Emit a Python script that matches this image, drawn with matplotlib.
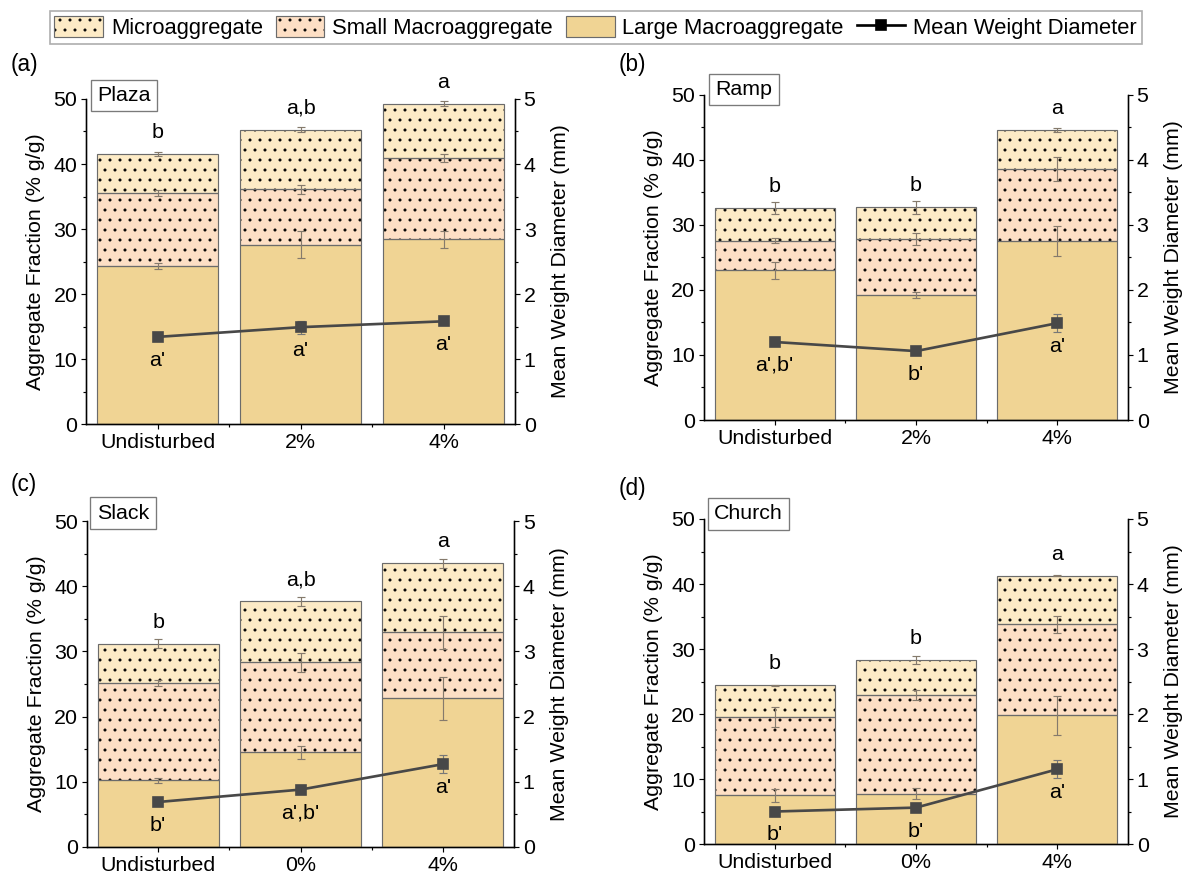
import matplotlib
matplotlib.use("Agg")
import matplotlib.pyplot as plt
from matplotlib.patches import Patch
from matplotlib.lines import Line2D
from matplotlib.ticker import MultipleLocator, FixedLocator

plt.rcParams["font.family"] = ["Liberation Sans", "DejaVu Sans"]
plt.rcParams["hatch.linewidth"] = 0.6

# treatments
groups_ab = ["Undisturbed", "2%", "4%"]
groups_cd = ["Undisturbed", "0%", "4%"]

# aggregate fractions (% g/g) and standard errors, per site
plaza_large = [24.3, 27.6, 28.4]
plaza_large_err = [0.5, 2.1, 1.35]
plaza_small = [11.3, 8.5, 12.5]
plaza_small_err = [0.45, 0.65, 0.65]
plaza_micro = [5.9, 9.2, 8.4]
plaza_micro_err = [0.33, 0.45, 0.35]
plaza_mwd = [1.34, 1.49, 1.58]
plaza_mwd_err = [0.03, 0.1, 0.05]
plaza_letters = ["b", "a,b", "a"]
plaza_mwd_letters = ["a'", "a'", "a'"]

ramp_large = [23.0, 19.2, 27.6]
ramp_large_err = [1.25, 0.5, 2.3]
ramp_small = [4.6, 8.6, 11.0]
ramp_small_err = [0.4, 0.9, 1.85]
ramp_micro = [5.0, 4.9, 6.0]
ramp_micro_err = [0.95, 0.95, 0.33]
ramp_mwd = [1.20, 1.06, 1.49]
ramp_mwd_err = [0.05, 0.03, 0.14]
ramp_letters = ["b", "b", "a"]
ramp_mwd_letters = ["a',b'", "b'", "a'"]

slack_large = [10.2, 14.5, 22.8]
slack_large_err = [0.45, 1.0, 3.25]
slack_small = [14.9, 13.8, 10.1]
slack_small_err = [0.45, 1.5, 2.55]
slack_micro = [6.1, 9.4, 10.6]
slack_micro_err = [0.65, 0.7, 0.7]
slack_mwd = [0.69, 0.88, 1.27]
slack_mwd_err = [0.05, 0.03, 0.14]
slack_letters = ["b", "a,b", "a"]
slack_mwd_letters = ["b'", "a',b'", "a'"]

church_large = [7.5, 7.7, 19.8]
church_large_err = [1.0, 0.85, 3.0]
church_small = [12.1, 15.2, 14.0]
church_small_err = [1.55, 0.75, 1.3]
church_micro = [4.8, 5.4, 7.5]
church_micro_err = [0.1, 0.65, 0.1]
church_mwd = [0.50, 0.56, 1.15]
church_mwd_err = [0.03, 0.03, 0.14]
church_letters = ["b", "b", "a"]
church_mwd_letters = ["b'", "b'", "a'"]

c_large = "#f0d494"
c_small = "#fddfc5"
c_micro = "#fdebc6"
c_edge = "#6b6b6b"
c_err = "#857a6c"
c_line = "#484848"

FS = 12.8

sites = [
    ("(a)", "Plaza", groups_ab, [0.0728, 0.5143, 0.3629, 0.3723], (0.0886, 1.011),
     plaza_large, plaza_large_err, plaza_small, plaza_small_err, plaza_micro, plaza_micro_err,
     plaza_mwd, plaza_mwd_err, plaza_letters, plaza_mwd_letters),
    ("(b)", "Ramp", groups_ab, [0.5956, 0.5189, 0.3587, 0.3723], (0.0943, 1.017),
     ramp_large, ramp_large_err, ramp_small, ramp_small_err, ramp_micro, ramp_micro_err,
     ramp_mwd, ramp_mwd_err, ramp_letters, ramp_mwd_letters),
    ("(c)", "Slack", groups_cd, [0.0736, 0.0298, 0.3613, 0.3734], (0.0843, 1.0245),
     slack_large, slack_large_err, slack_small, slack_small_err, slack_micro, slack_micro_err,
     slack_mwd, slack_mwd_err, slack_letters, slack_mwd_letters),
    ("(d)", "Church", groups_cd, [0.5956, 0.0332, 0.3587, 0.3723], (0.105, 1.0154),
     church_large, church_large_err, church_small, church_small_err, church_micro, church_micro_err,
     church_mwd, church_mwd_err, church_letters, church_mwd_letters),
]
panel_label_pos = {"(a)": (24, 65), "(b)": (632, 65), "(c)": (24, 485), "(d)": (632, 488)}

fig = plt.figure(figsize=(1182 / 120, 873 / 120), dpi=120)


def style_axis(a):
    a.tick_params(direction="out", length=3.2, width=0.7, labelsize=FS, pad=2)
    a.tick_params(which="minor", direction="out", length=2, width=0.7)
    for s in a.spines.values():
        s.set_linewidth(0.8)
    a.spines["top"].set_visible(False)


for (plab, site, groups, rect, box_xy, large, large_err, small, small_err,
     micro, micro_err, mwd, mwd_err, letters, mwd_letters) in sites:
    ax = fig.add_axes(rect)
    x = [1, 2, 3]
    w = 0.85
    small_bottom = large
    micro_bottom = [l + s for l, s in zip(large, small)]
    top = [m + mi for m, mi in zip(micro_bottom, micro)]

    # filled segments (dots drawn in black), then thin outlines on top
    ax.bar(x, large, w, color=c_large, linewidth=0, zorder=2)
    ax.bar(x, small, w, bottom=small_bottom, color=c_small, hatch="..",
           edgecolor="black", linewidth=0, zorder=2)
    ax.bar(x, micro, w, bottom=micro_bottom, color=c_micro, hatch="..",
           edgecolor="black", linewidth=0, zorder=2)
    for h, b in [(large, None), (small, small_bottom), (micro, micro_bottom)]:
        ax.bar(x, h, w, bottom=b, fill=False, edgecolor=c_edge, linewidth=0.7, zorder=3)

    ax.errorbar(x, small_bottom, yerr=large_err, fmt="none", ecolor=c_err,
                elinewidth=0.7, capsize=2.2, capthick=0.7, zorder=4)
    ax.errorbar(x, micro_bottom, yerr=small_err, fmt="none", ecolor=c_err,
                elinewidth=0.7, capsize=2.2, capthick=0.7, zorder=4)
    ax.errorbar(x, top, yerr=micro_err, fmt="none", ecolor=c_err,
                elinewidth=0.7, capsize=2.2, capthick=0.7, zorder=4)

    for xi, t, lab in zip(x, top, letters):
        ax.text(xi, t + 3.3, lab, ha="center", va="center", fontsize=FS)

    ax.set_xlim(0.5, 3.5)
    ax.set_ylim(0, 50)
    ax.set_xticks(x)
    ax.set_xticklabels(groups)
    ax.xaxis.set_minor_locator(FixedLocator([1.5, 2.5]))
    ax.yaxis.set_major_locator(MultipleLocator(10))
    ax.yaxis.set_minor_locator(MultipleLocator(5))
    ax.set_ylabel("Aggregate Fraction (% g/g)", fontsize=FS, labelpad=5)
    style_axis(ax)

    ax2 = ax.twinx()
    ax2.errorbar(x, mwd, yerr=mwd_err, color=c_line, linewidth=1.6, marker="s",
                 markersize=6.5, ecolor="#777777", elinewidth=0.7, capsize=2.2,
                 capthick=0.7, zorder=5)
    for xi, m, lab in zip(x, mwd, mwd_letters):
        ax2.text(xi, m - 0.36, lab, ha="center", va="center", fontsize=FS)
    ax2.set_ylim(0, 5)
    ax2.yaxis.set_major_locator(MultipleLocator(1))
    ax2.yaxis.set_minor_locator(MultipleLocator(0.5))
    ax2.set_ylabel("Mean Weight Diameter (mm)", fontsize=FS, labelpad=9)
    style_axis(ax2)

    ax2.text(box_xy[0], box_xy[1], site, transform=ax.transAxes, ha="center",
             va="center", fontsize=FS, zorder=10,
             bbox=dict(boxstyle="square,pad=0.3", facecolor="white",
                       edgecolor="#7a7a7a", linewidth=0.8))
    px, py = panel_label_pos[plab]
    fig.text(px / 1182, 1 - py / 873, plab, ha="center", va="center", fontsize=13.5)

# shared legend
h_micro = (Patch(facecolor=c_micro, hatch="..", edgecolor="black", linewidth=0),
           Patch(facecolor="none", edgecolor=c_edge, linewidth=0.7))
h_small = (Patch(facecolor=c_small, hatch="..", edgecolor="black", linewidth=0),
           Patch(facecolor="none", edgecolor=c_edge, linewidth=0.7))
h_large = Patch(facecolor=c_large, edgecolor=c_edge, linewidth=0.7)
h_mwd = Line2D([], [], color="black", linewidth=1.6, marker="s", markersize=6.5)
fig.legend([h_micro, h_small, h_large, h_mwd],
           ["Microaggregate", "Small Macroaggregate", "Large Macroaggregate",
            "Mean Weight Diameter"],
           loc="upper center", bbox_to_anchor=(0.504, 0.987), ncol=4,
           fontsize=13.2, frameon=True, fancybox=False, edgecolor="#9a9a9a",
           handlelength=2.2, handleheight=1.1, handletextpad=0.36,
           columnspacing=0.6, borderpad=0.22, borderaxespad=0)

fig.savefig("out.png", dpi=120)
